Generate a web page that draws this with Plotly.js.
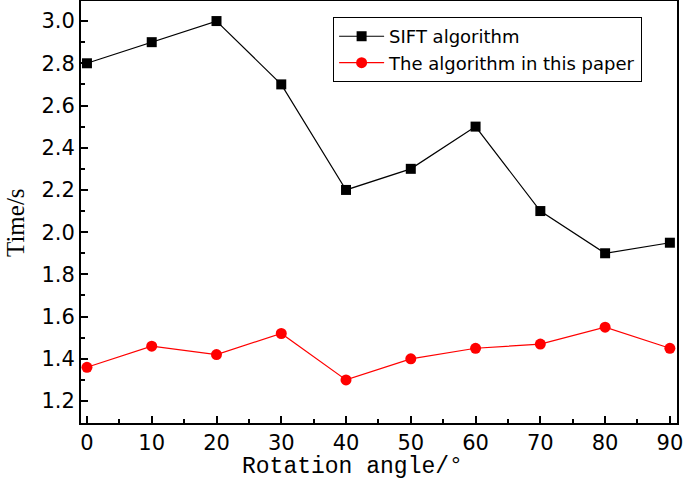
<!DOCTYPE html>
<html><head><meta charset="utf-8">
<script src="https://cdn.plot.ly/plotly-3.0.1.min.js"></script>
<style>html,body{margin:0;padding:0;background:#fff;}</style>
</head><body>
<div id="chart" style="width:685px;height:480px;"></div>
<script>
const angles = [0, 10, 20, 30, 40, 50, 60, 70, 80, 90];
const siftTimes = [2.8, 2.9, 3.0, 2.7, 2.2, 2.3, 2.5, 2.1, 1.9, 1.95];
const paperTimes = [1.36, 1.46, 1.42, 1.52, 1.30, 1.40, 1.45, 1.47, 1.55, 1.45];
const seriesNames = ['SIFT algorithm', 'The algorithm in this paper'];
const yTicks = [1.2, 1.4, 1.6, 1.8, 2.0, 2.2, 2.4, 2.6, 2.8, 3.0];
const xTitle = 'Rotation angle/°';
const yTitle = 'Time/s';

const traces = [
  {x: angles, y: siftTimes, name: seriesNames[0], mode: 'lines+markers', type: 'scatter',
   line: {color: '#000000', width: 1.2}, marker: {symbol: 'square', size: 10, color: '#000000'}},
  {x: angles, y: paperTimes, name: seriesNames[1], mode: 'lines+markers', type: 'scatter',
   line: {color: '#ff0000', width: 1.2}, marker: {symbol: 'circle', size: 11, color: '#ff0000'}}
];

const tickFont = {family: 'DejaVu Sans', size: 21, color: '#000'};
const layout = {
  width: 685, height: 480,
  margin: {l: 81, r: 8, t: 1, b: 57},
  paper_bgcolor: '#ffffff', plot_bgcolor: '#ffffff',
  showlegend: true,
  legend: {x: 0.423, y: 0.962, xanchor: 'left', yanchor: 'top', bgcolor: '#ffffff',
    bordercolor: '#000000', borderwidth: 1, font: {family: 'DejaVu Sans', size: 18, color: '#000'},
    tracegroupgap: 0, itemwidth: 45},
  xaxis: {
    range: [-0.92, 91.1], tickvals: angles, ticktext: angles.map(String),
    ticks: 'inside', ticklen: 7, tickwidth: 2, tickcolor: '#000',
    minor: {dtick: 5, ticks: 'inside', ticklen: 4, tickwidth: 2, tickcolor: '#000'},
    showline: true, linecolor: '#000', linewidth: 2, mirror: true,
    showgrid: false, zeroline: false,
    tickfont: tickFont
  },
  yaxis: {
    range: [1.096, 3.095], tickvals: yTicks,
    ticktext: yTicks.map(v => v.toFixed(1)),
    ticks: 'inside', ticklen: 7, tickwidth: 2, tickcolor: '#000',
    minor: {dtick: 0.1, tick0: 1.1, ticks: 'inside', ticklen: 4, tickwidth: 2, tickcolor: '#000'},
    showline: true, linecolor: '#000', linewidth: 2, mirror: true,
    showgrid: false, zeroline: false,
    tickfont: tickFont
  },
  annotations: [
    {text: xTitle, xref: 'paper', yref: 'paper', x: 0.456, y: -0.104, xanchor: 'center', yanchor: 'middle',
     showarrow: false, font: {family: 'Liberation Mono', size: 23, color: '#000'}},
    {text: yTitle, xref: 'paper', yref: 'paper', x: -0.111, y: 0.476, xanchor: 'center', yanchor: 'middle',
     textangle: -90, showarrow: false, borderpad: 0, font: {family: 'Liberation Serif', size: 25, color: '#000'}}
  ]
};
Plotly.newPlot('chart', traces, layout, {displayModeBar: false, staticPlot: true});
</script>
</body></html>
